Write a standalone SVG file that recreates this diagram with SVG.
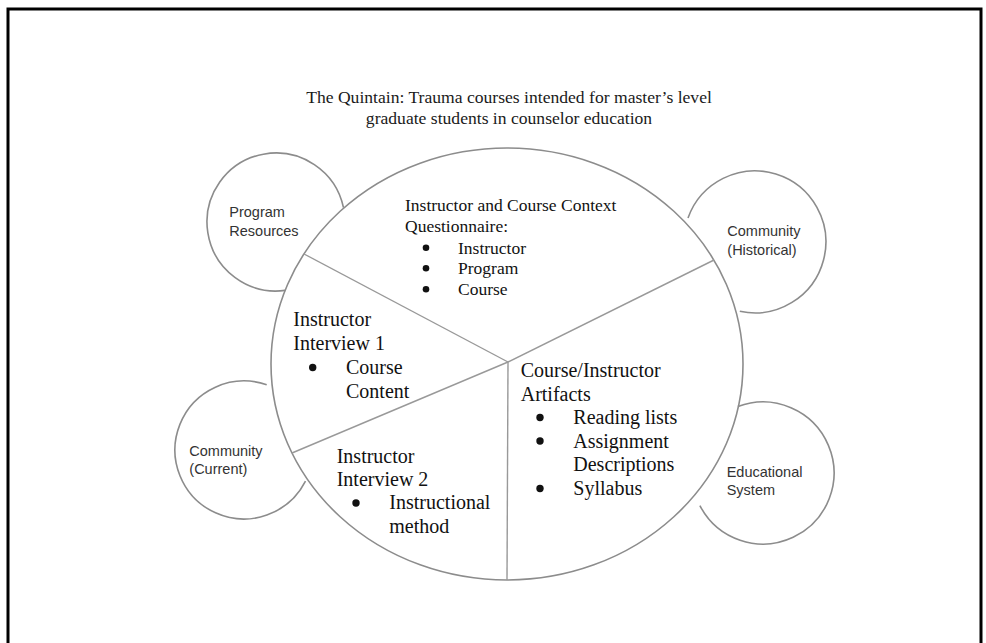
<svg xmlns="http://www.w3.org/2000/svg" width="986" height="643" viewBox="0 0 986 643">
  <style>
    .frame { fill: none; stroke: #000; stroke-width: 3; }
    .ring { fill: none; stroke: #8c8c8c; stroke-width: 1.6; }
    .divider { fill: none; stroke: #999; stroke-width: 1.4; }
    .serif { font-family: "Liberation Serif", "Times New Roman", serif; fill: #111; }
    .title { font-size: 17.6px; text-anchor: middle; fill: #1a1a1a; }
    .body { font-size: 17.5px; }
    .big { font-size: 20px; }
    .sans { font-family: "Liberation Sans", Arial, sans-serif; font-size: 14.5px; fill: #333; }
    .dot { fill: #111; }
  </style>

  <rect x="0" y="0" width="986" height="643" fill="#fff"/>
  <path class="frame" d="M8,643 V9 H981 V643"/>

  <!-- heading -->
  <g id="title">
    <text class="serif title" x="509" y="103">The Quintain: Trauma courses intended for master’s level</text>
    <text class="serif title" x="509" y="124">graduate students in counselor education</text>
  </g>

  <!-- context circles around the case -->
  <g id="program-resources">
    <path class="ring" d="M285.2,290.4 A69,69 0 1 1 343.5,207.7"/>
    <text class="sans" x="229.3" y="217.3">Program</text>
    <text class="sans" x="229.3" y="236">Resources</text>
  </g>
  <g id="community-historical">
    <path class="ring" d="M688,218 A71,71 0 1 1 739.8,311.3"/>
    <text class="sans" x="727.3" y="236">Community</text>
    <text class="sans" x="727.3" y="254.5">(Historical)</text>
  </g>
  <g id="community-current">
    <path class="ring" d="M266.7,384.8 A69,69 0 1 0 305.5,481.2"/>
    <text class="sans" x="189.3" y="455.5">Community</text>
    <text class="sans" x="189.3" y="474">(Current)</text>
  </g>
  <g id="educational-system">
    <path class="ring" d="M737.9,406.6 A71,71 0 1 1 699.9,505.6"/>
    <text class="sans" x="726.7" y="476.5">Educational</text>
    <text class="sans" x="726.7" y="494.5">System</text>
  </g>

  <!-- the case: one ellipse split into four data sources -->
  <g id="quintain">
    <ellipse class="ring" cx="507" cy="364" rx="236" ry="216"/>
  </g>

  <g id="connectors">
    <line class="divider" x1="508" y1="362" x2="304" y2="254"/>
    <line class="divider" x1="508" y1="362" x2="714" y2="260"/>
    <line class="divider" x1="508" y1="362" x2="292" y2="453"/>
    <line class="divider" x1="508" y1="362" x2="507" y2="580"/>
  </g>

  <g id="questionnaire">
    <text class="serif body" x="405" y="211">Instructor and Course Context</text>
    <text class="serif body" x="405" y="232">Questionnaire:</text>
    <circle class="dot" cx="426" cy="247.7" r="3.3"/>
    <circle class="dot" cx="426" cy="268.2" r="3.3"/>
    <circle class="dot" cx="426" cy="289.2" r="3.3"/>
    <text class="serif body" x="458" y="253.5">Instructor</text>
    <text class="serif body" x="458" y="274">Program</text>
    <text class="serif body" x="458" y="295">Course</text>
  </g>

  <g id="interview-1">
    <text class="serif big" x="293.3" y="326">Instructor</text>
    <text class="serif big" x="293.3" y="350">Interview 1</text>
    <circle class="dot" cx="312.7" cy="367.5" r="3.7"/>
    <text class="serif big" x="346" y="374">Course</text>
    <text class="serif big" x="346" y="398">Content</text>
  </g>

  <g id="interview-2">
    <text class="serif big" x="336.7" y="462.7">Instructor</text>
    <text class="serif big" x="336.7" y="486">Interview 2</text>
    <circle class="dot" cx="356" cy="503" r="3.7"/>
    <text class="serif big" x="389.3" y="509.3">Instructional</text>
    <text class="serif big" x="389.3" y="532.7">method</text>
  </g>

  <g id="artifacts">
    <text class="serif big" x="520.7" y="377">Course/Instructor</text>
    <text class="serif big" x="520.7" y="400.5">Artifacts</text>
    <circle class="dot" cx="540" cy="417.5" r="3.7"/>
    <circle class="dot" cx="540" cy="441" r="3.7"/>
    <circle class="dot" cx="540" cy="488.5" r="3.7"/>
    <text class="serif big" x="573.3" y="424">Reading lists</text>
    <text class="serif big" x="573.3" y="447.5">Assignment</text>
    <text class="serif big" x="573.3" y="471">Descriptions</text>
    <text class="serif big" x="573.3" y="494.5">Syllabus</text>
  </g>
</svg>
